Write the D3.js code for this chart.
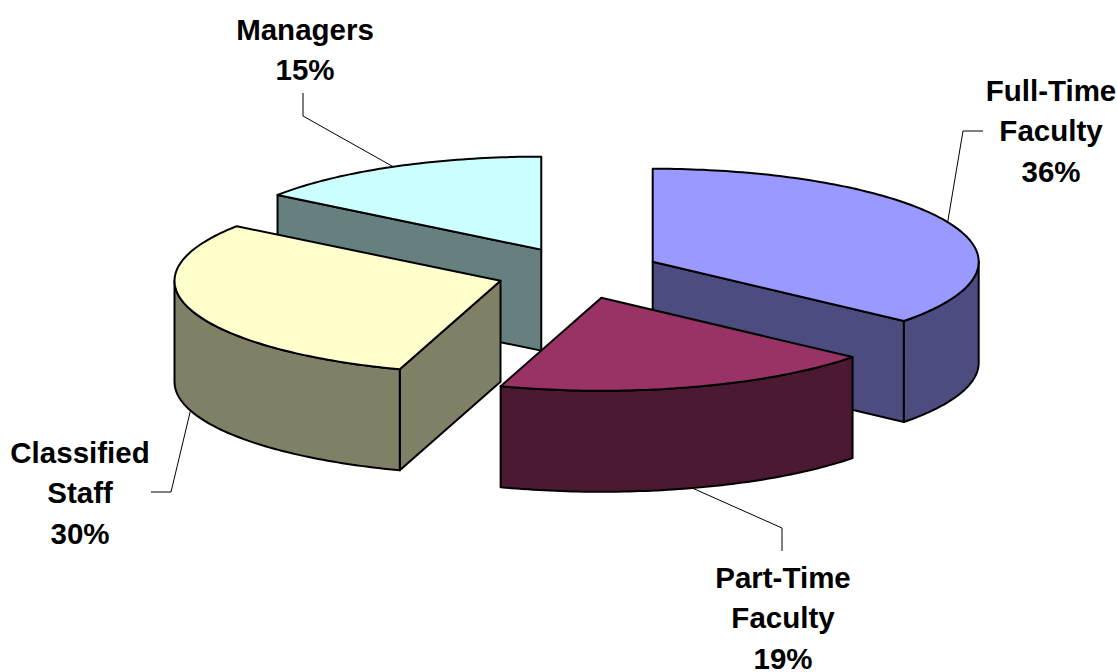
<!DOCTYPE html>
<html>
<head>
<meta charset="utf-8">
<script src="https://cdn.jsdelivr.net/npm/d3@7"></script>
<style>
  body { margin: 0; background: #fff; }
  svg text { font-family: "Liberation Sans", Arial, sans-serif; font-weight: bold; fill: #000; }
</style>
</head>
<body>
<svg id="chart" width="1117" height="672"></svg>
<script>
// Staff composition (share of total, %)
const categories = ["Full-Time Faculty", "Part-Time Faculty", "Classified Staff", "Managers"];
const shares = [36, 19, 30, 15];
const topColors = ["#9999FF", "#993366", "#FFFFCC", "#CCFFFF"];
const sideColors = ["#4C4C80", "#4C1933", "#808066", "#668080"];

// 3-D pie geometry
const geo = { cx: 578.5, cy: 272.8, rx: 326, ry: 93, depth: 101, explodeX: 82, explodeY: 26 };

// Leader elbows / ends and label anchors (x centre, first baseline)
const labelLayout = [
  { elbow: [963, 131], end: [983, 131], x: 1051, y: 101 },
  { elbow: [782, 528], end: [782, 551], x: 783, y: 588 },
  { elbow: [171, 492], end: [151, 492], x: 80, y: 463 },
  { elbow: [303, 116], end: [303, 93], x: 305, y: 39.5 }
];
const lineGap = 40.3;

const svg = d3.select("#chart");
const arcs = d3.pie().sort(null).value(d => d)(shares);

function pt(theta, ox, oy, z) {
  return [ox + geo.rx * Math.sin(theta), oy - geo.ry * Math.cos(theta) + z];
}
function arcPts(a, b, ox, oy, z) {
  const n = Math.max(2, Math.ceil(Math.abs(b - a) / (Math.PI / 180)));
  return d3.range(n + 1).map(i => pt(a + (b - a) * i / n, ox, oy, z));
}
const line = d3.line();

const slices = arcs.map((a, i) => {
  const mid = (a.startAngle + a.endAngle) / 2;
  return {
    i, a0: a.startAngle, a1: a.endAngle, mid,
    ox: geo.cx + geo.explodeX * Math.sin(mid),
    oy: geo.cy - geo.explodeY * Math.cos(mid)
  };
});

// paint back-to-front
const order = slices.slice().sort((p, q) => (-Math.cos(p.mid)) - (-Math.cos(q.mid)));
const eps = 1e-6;

order.forEach(s => {
  const g = svg.append("g");
  const D = geo.depth;
  const faces = [];
  const radial = th => [[s.ox, s.oy], pt(th, s.ox, s.oy, 0), pt(th, s.ox, s.oy, D), [s.ox, s.oy + D]];
  if (Math.sin(s.a0) < -eps) faces.push(radial(s.a0));
  if (Math.sin(s.a1) > eps) faces.push(radial(s.a1));
  const f0 = Math.max(s.a0, Math.PI / 2), f1 = Math.min(s.a1, 3 * Math.PI / 2);
  if (f1 > f0 + eps) {
    faces.push(arcPts(f0, f1, s.ox, s.oy, 0).concat(arcPts(f0, f1, s.ox, s.oy, D).reverse()));
  }
  faces.forEach(f => {
    g.append("path").attr("d", line(f) + "Z")
      .attr("fill", sideColors[s.i]).attr("stroke", "#000")
      .attr("stroke-width", 2).attr("stroke-linejoin", "round");
  });
  const top = [[s.ox, s.oy]].concat(arcPts(s.a0, s.a1, s.ox, s.oy, 0));
  g.append("path").attr("d", line(top) + "Z")
    .attr("fill", topColors[s.i]).attr("stroke", "#000")
    .attr("stroke-width", 2).attr("stroke-linejoin", "round");
});

// leader lines and labels
slices.forEach(s => {
  const L = labelLayout[s.i];
  const front = -Math.cos(s.mid) > 0;
  const start = pt(s.mid, s.ox, s.oy, front ? geo.depth : 0);
  svg.append("path").attr("d", line([start, L.elbow, L.end]))
    .attr("fill", "none").attr("stroke", "#000").attr("stroke-width", 1);
  const lines = categories[s.i].split(" ").concat([shares[s.i] + "%"]);
  const t = svg.append("text").attr("text-anchor", "middle").style("font-size", "29.5px");
  lines.forEach((txt, k) => {
    t.append("tspan").attr("x", L.x).attr("y", L.y + k * lineGap).text(txt);
  });
});
</script>
</body>
</html>
